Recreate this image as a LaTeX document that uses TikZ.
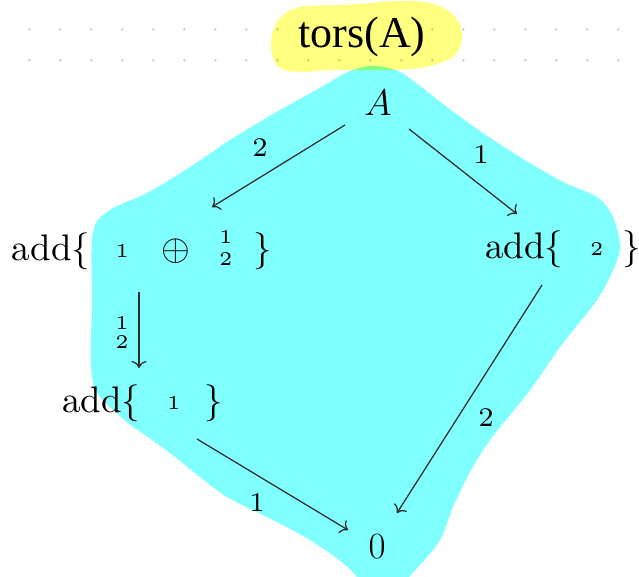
\RequirePackage{fix-cm}
\documentclass[tikz,border=0pt]{standalone}
\usepackage{fontspec}
\newfontfamily\torsfont{Liberation Serif}
\newfontfamily\tenfont{lmroman10-regular.otf}
\newfontfamily\sevenfont{lmroman7-regular.otf}
\newfontfamily\fivefont{lmroman5-regular.otf}
\usetikzlibrary{arrows.meta,calc}
\definecolor{hlcyan}{RGB}{128,255,255}
\definecolor{hlyellow}{RGB}{255,255,128}
\definecolor{gridgray}{RGB}{200,200,200}
\definecolor{arrowgray}{RGB}{45,45,45}
\newcommand\smallnum[1]{{\fivefont\fontsize{19.5}{20}\selectfont #1}}
\newcommand\smnum[1]{\raisebox{3pt}{\smallnum{#1}}}
\newcommand\stk[2]{\makebox[0pt]{\raisebox{16.5pt}{\smallnum{#1}}}\makebox[0pt]{\raisebox{-5.5pt}{\smallnum{#2}}}}
\newcommand\closebr{\makebox[12pt][c]{\}}}
\begin{document}
\begin{tikzpicture}[x=1pt,y=-1pt,
  obj/.style={inner sep=0pt, outer sep=0pt, font=\tenfont\fontsize{37}{44}\selectfont},
  torsstyle/.style={inner sep=0pt, outer sep=0pt, font=\torsfont\fontsize{44}{50}\selectfont},
  lbl/.style={inner sep=0pt, outer sep=0pt, font=\sevenfont\fontsize{27}{30}\selectfont},
  stacklbl/.style={inner sep=0pt, outer sep=0pt, align=center, font=\fivefont\fontsize{19.5}{19}\selectfont},
  arr/.style={draw=arrowgray, line width=1.25pt, -{To[length=7pt,width=15pt]}}]
\useasboundingbox (0,0) rectangle (639,576);
\fill[white] (0,0) rectangle (639,576);
% dotted grid
\foreach \k in {0,...,19}{
  \fill[gridgray] ({29.3+31*\k},29.3) circle (1.3pt);
  \fill[gridgray] ({29.3+31*\k},60.3) circle (1.3pt);
}
% cyan highlight
\fill[hlcyan] plot[smooth cycle, tension=0.55] coordinates {
  (372,66) (398,71) (420,86) (447,107) (480,131) (520,157) (563,182) (597,197)
  (613,217) (620,247) (613,270) (597,300) (563,343) (530,390) (490,440)
  (470,472) (453,507) (440,540) (418,567) (398,585) (368,585) (343,563)
  (310,540) (267,517) (227,497) (200,477) (170,453) (145,435) (120,416)
  (93,382) (92,300) (93,232) (110,210) (147,193) (190,167) (230,140)
  (280,110) (318,89) (348,72)};
% yellow highlight
\fill[hlyellow, blend mode=multiply] plot[smooth cycle, tension=0.6] coordinates {
  (300,7) (340,5) (370,3) (400,1) (430,3) (450,12) (460,25) (462,40)
  (455,55) (440,63) (420,68) (390,70) (360,70) (330,70) (300,72)
  (280,68) (272,55) (272,35) (280,18)};
% title
\node[torsstyle, anchor=base] (tors) at (362,47) {tors(A)};
% objects
\node[obj, anchor=base] (A) at (378,115) {$A$};
\node[obj, anchor=base west] (L) at (12,260) {add\{\hspace{25.5pt}\smnum{1}\hspace{32.5pt}$\oplus$\hspace{35.6pt}\stk{1}{2}\hspace{31pt}\closebr};
\node[obj, anchor=base west] (R) at (485,258) {add\{\hspace{27pt}\smnum{2}\hspace{22.5pt}\closebr};
\node[obj, anchor=base west] (BL) at (62,412) {add\{\hspace{27pt}\smnum{1}\hspace{27.5pt}\closebr};
\node[obj, anchor=base] (Z) at (377,558) {$0$};
% arrows
\draw[arr] ($(A.base)+(-33,10)$) -- ($(L.base west)+(200,-53)$);
\draw[arr] ($(A.base)+(31,14)$) -- ($(R.base west)+(32,-44)$);
\draw[arr] ($(L.base west)+(127,32)$) -- ($(BL.base west)+(77,-44)$);
\draw[arr] ($(BL.base west)+(135,27)$) -- ($(Z.base)+(-29,-28)$);
\draw[arr] ($(R.base west)+(57,27)$) -- ($(Z.base)+(20,-45)$);
% labels
\node[lbl] (l1) at (260,147.5) {2};
\node[lbl] (l2) at (481,154.5) {1};
\node[stacklbl] (l3) at (122,332.5) {1\\2};
\node[lbl] (l4) at (257,502.5) {1};
\node[lbl] (l5) at (486,417.5) {2};
\end{tikzpicture}
\end{document}
